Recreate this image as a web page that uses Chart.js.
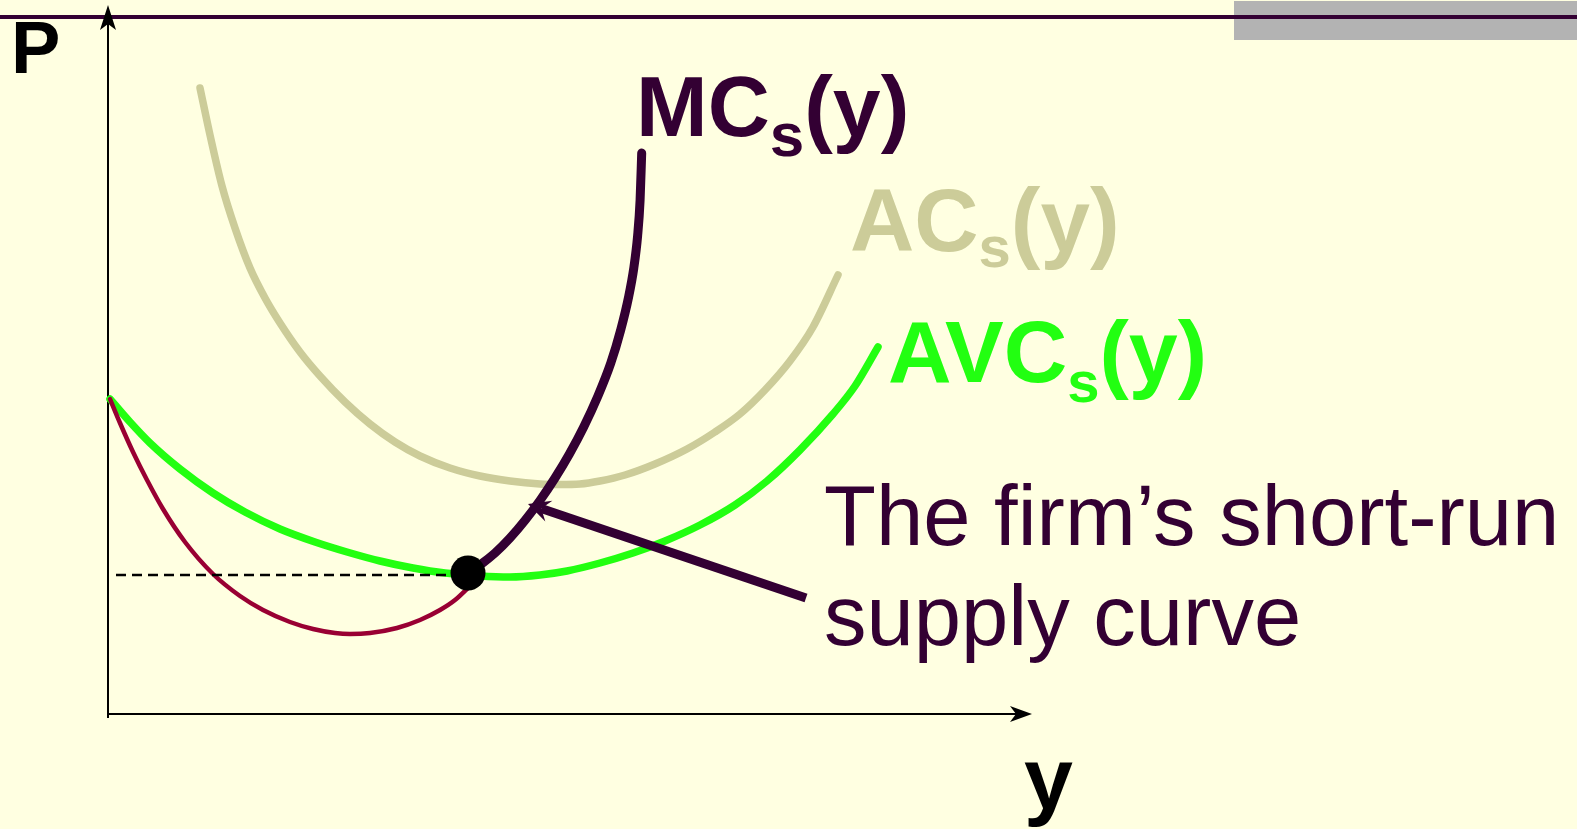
<!DOCTYPE html>
<html>
<head>
<meta charset="utf-8">
<title>The firm's short-run supply curve</title>
<script src="https://cdn.jsdelivr.net/npm/chart.js@4.4.1/dist/chart.umd.min.js"></script>
<style>
    html, body { margin: 0; padding: 0; background: #ffffe1; overflow: hidden; }
    #wrap { width: 1577px; height: 829px; }
</style>
</head>
<body>
<div id="wrap"><canvas id="supplyChart" width="1577" height="829"></canvas></div>
<script>
// output y (x axis) and price / cost P (y axis)
const acQty = [9.2, 10.2, 11.4, 12.7, 14.2, 15.7, 17.2, 19.2, 21.2, 23.7, 26.2, 28.7, 31.2, 34.2, 37.2,
    40.2, 43.2, 45.2, 47.2, 49.2, 51.7, 54.7, 57.9, 60.7, 63.2, 65.7, 68.2, 70.5, 73.0];
const acCost = [62.6, 57.9, 52.8, 48.6, 44.6, 41.6, 39.1, 36.2, 33.8, 31.2, 29.0, 27.2, 25.8, 24.6, 23.8,
    23.3, 23.0, 22.95, 23.0, 23.3, 23.9, 25.0, 26.5, 28.2, 30.0, 32.4, 35.3, 38.7, 43.9];

const avcQty = [0.2, 2.2, 4.2, 7.2, 10.5, 13.7, 17.2, 20.7, 23.9, 27.2, 30.5, 33.7, 37.2,
    40.2, 43.2, 45.9, 49.2, 52.5, 55.7, 59.2, 62.7, 65.9, 69.2, 72.5, 74.7, 77.0];
const avcCost = [31.5, 29.2, 27.1, 24.5, 22.1, 20.2, 18.5, 17.2, 16.2, 15.3, 14.6, 14.1, 13.8,
    13.7, 13.9, 14.3, 15.1, 16.1, 17.3, 18.9, 20.9, 23.3, 26.4, 30.0, 32.8, 36.7];

// MC below the shutdown point
const mcLowQty = [0.2, 1.2, 2.5, 3.9, 5.5, 7.7, 10.5, 13.2, 15.5, 18.2, 20.5, 22.7, 24.2, 26.2, 28.9, 31.2, 33.2, 34.7, 36.2];
const mcLowCost = [31.5, 29.1, 26.2, 23.4, 20.5, 17.2, 14.0, 11.8, 10.4, 9.2, 8.5, 8.1, 8.0, 8.1, 8.6, 9.4, 10.4, 11.4, 12.8];

// MC above the shutdown point = the supply curve
const mcQty = [36.00, 37.20, 38.70, 40.20, 41.73, 43.23, 44.70, 46.14, 47.57, 48.95, 50.28, 51.27, 52.06, 52.58, 52.96, 53.21, 53.37];
const mcCost = [14.1, 14.9, 16.1, 17.6, 19.4, 21.4, 23.6, 26.0, 28.7, 31.7, 35.1, 38.4, 41.7, 44.6, 47.8, 51.4, 56.1];

const shutdownQty = [36.0];
const shutdownPrice = [14.1];
const dashQty = [0.8, 36.0];
const dashPrice = [13.9, 13.9];

// pointer arrow to the supply curve (start, tip)
const pointerQty = [69.8, 42.0];
const pointerCost = [11.6, 21.0];

// axis extents
const axisMaxQty = 92.4;
const axisMaxCost = 70.9;

const toPoints = (xs, ys) => xs.map((x, i) => ({ x: x, y: ys[i] }));

// 화살표 그리기 (노치가 있는 화살촉)
function drawArrow(ctx, x1, y1, x2, y2, lw, color, headLen, headHalf, notch) {
    const ang = Math.atan2(y2 - y1, x2 - x1);
    const c = Math.cos(ang), s = Math.sin(ang);
    ctx.save();
    ctx.strokeStyle = color;
    ctx.fillStyle = color;
    ctx.lineWidth = lw;
    ctx.lineCap = 'butt';
    ctx.beginPath();
    ctx.moveTo(x1, y1);
    ctx.lineTo(x2 - c * notch, y2 - s * notch);
    ctx.stroke();
    const bx = x2 - c * headLen, by = y2 - s * headLen;
    ctx.beginPath();
    ctx.moveTo(x2, y2);
    ctx.lineTo(bx - s * headHalf, by + c * headHalf);
    ctx.lineTo(x2 - c * notch, y2 - s * notch);
    ctx.lineTo(bx + s * headHalf, by - c * headHalf);
    ctx.closePath();
    ctx.fill();
    ctx.restore();
}

function drawSubLabel(ctx, x, y, main, sub, rest, size, subSize, drop, color) {
    const fam = '"Liberation Sans", Arial, sans-serif';
    ctx.save();
    ctx.fillStyle = color;
    ctx.textBaseline = 'alphabetic';
    ctx.font = `bold ${size}px ${fam}`;
    ctx.fillText(main, x, y);
    x += ctx.measureText(main).width;
    ctx.font = `bold ${subSize}px ${fam}`;
    ctx.fillText(sub, x, y + drop);
    x += ctx.measureText(sub).width;
    ctx.font = `bold ${size}px ${fam}`;
    ctx.fillText(rest, x, y);
    ctx.restore();
}

const slidePlugin = {
    id: 'slide',
    beforeDraw(chart) {
        const ctx = chart.ctx;
        ctx.save();
        ctx.fillStyle = '#ffffe1';
        ctx.fillRect(0, 0, chart.width, chart.height);
        ctx.fillStyle = '#b3b3b3';
        ctx.fillRect(1234, 1, chart.width - 1234, 39);
        ctx.fillStyle = '#330033';
        ctx.fillRect(0, 15, chart.width, 4);
        ctx.restore();
    },
    beforeDatasetsDraw(chart) {
        const ctx = chart.ctx;
        const xs = chart.scales.x, ys = chart.scales.y;
        const x0 = xs.getPixelForValue(0), y0 = ys.getPixelForValue(0);
        // P axis
        drawArrow(ctx, x0, ys.getPixelForValue(-0.2) + 2, x0, ys.getPixelForValue(axisMaxCost), 2, '#000', 25, 8, 19);
        // y axis
        drawArrow(ctx, x0, y0, xs.getPixelForValue(axisMaxQty), y0, 2, '#000', 22, 8, 16);
    },
    afterDatasetsDraw(chart) {
        const ctx = chart.ctx;
        const xs = chart.scales.x, ys = chart.scales.y;
        drawArrow(ctx,
            xs.getPixelForValue(pointerQty[0]), ys.getPixelForValue(pointerCost[0]),
            xs.getPixelForValue(pointerQty[1]), ys.getPixelForValue(pointerCost[1]),
            9, '#330033', 22, 11, 14);

        const fam = '"Liberation Sans", Arial, sans-serif';
        ctx.save();
        ctx.fillStyle = '#000';
        ctx.font = `bold 74px ${fam}`;
        ctx.fillText('P', 11, 73);
        ctx.font = `bold 88px ${fam}`;
        ctx.fillText('y', 1024, 809);
        ctx.restore();

        drawSubLabel(ctx, 636, 136, 'MC', 's', '(y)', 86, 62, 20, '#330033');
        drawSubLabel(ctx, 850, 251, 'AC', 's', '(y)', 89, 58, 16, '#cccc99');
        drawSubLabel(ctx, 888, 382, 'AVC', 's', '(y)', 88, 58, 20, '#22ff11');

        ctx.save();
        ctx.fillStyle = '#330033';
        ctx.font = `85px ${fam}`;
        ctx.fillText('The firm\u2019s short-run', 824, 545);
        ctx.fillText('supply curve', 824, 645);
        ctx.restore();
    }
};

const curve = (data, color, width) => ({
    data: data,
    showLine: true,
    borderColor: color,
    borderWidth: width,
    borderCapStyle: 'round',
    borderJoinStyle: 'round',
    pointRadius: 0,
    cubicInterpolationMode: 'monotone',
    fill: false,
});

// 첫 번째 데이터셋이 맨 위에 그려짐
new Chart(document.getElementById('supplyChart'), {
    type: 'scatter',
    data: {
        datasets: [
            {
                data: toPoints(shutdownQty, shutdownPrice),
                pointRadius: 17.5,
                pointBackgroundColor: '#000',
                pointBorderWidth: 0,
            },
            curve(toPoints(mcQty, mcCost), '#330033', 9),
            {
                data: toPoints(dashQty, dashPrice),
                showLine: true,
                borderColor: '#000',
                borderWidth: 2.5,
                borderDash: [10, 6],
                pointRadius: 0,
            },
            curve(toPoints(mcLowQty, mcLowCost), '#990033', 4.5),
            curve(toPoints(avcQty, avcCost), '#22ff11', 7.5),
            curve(toPoints(acQty, acCost), '#cccc99', 7.5),
        ],
    },
    options: {
        responsive: false,
        animation: false,
        layout: { padding: 0, autoPadding: false },
        plugins: {
            legend: { display: false },
            tooltip: { enabled: false },
        },
        scales: {
            x: { type: 'linear', display: false, min: -10.8, max: 146.9 },
            y: { type: 'linear', display: false, min: -11.5, max: 71.4 },
        },
    },
    plugins: [slidePlugin],
});
</script>
</body>
</html>
